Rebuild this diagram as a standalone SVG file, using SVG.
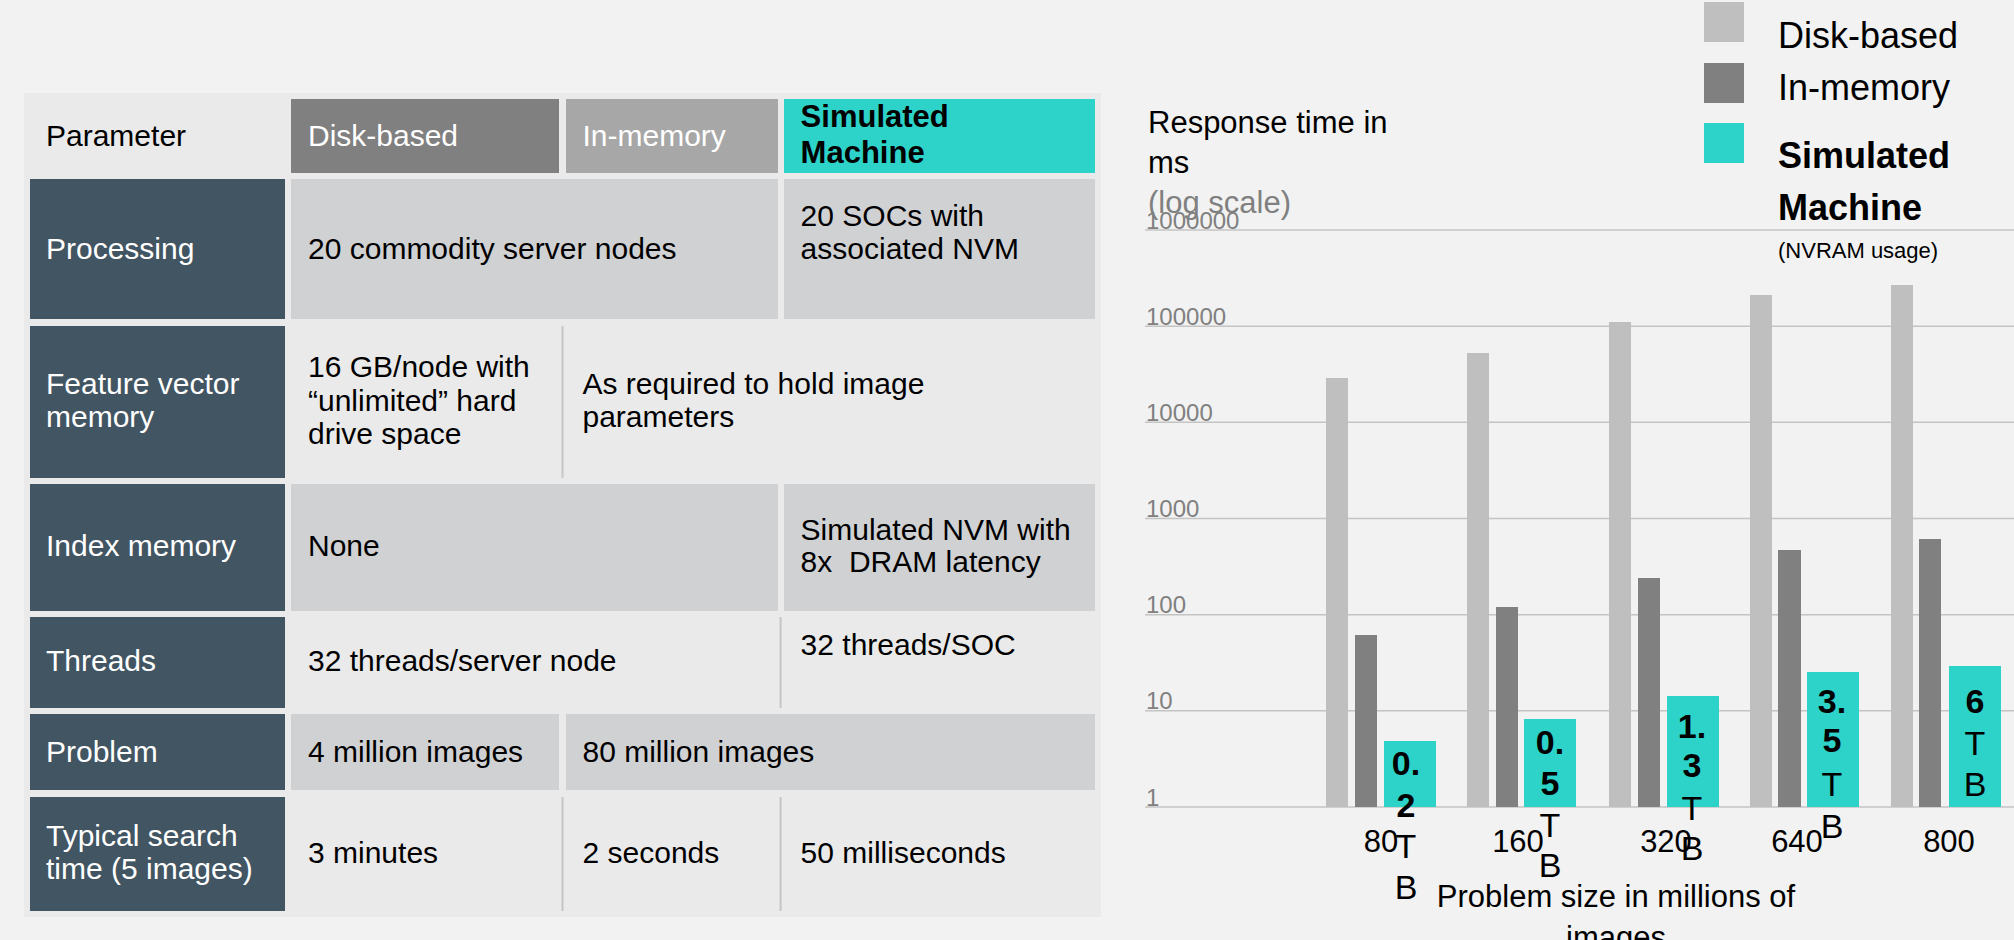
<svg xmlns="http://www.w3.org/2000/svg" width="2014" height="940" viewBox="0 0 2014 940">
<style>
text{font-family:"Liberation Sans",Arial,sans-serif;}
.t{font-size:30px;fill:#000;}
.w{font-size:30px;fill:#fff;}
.hb{font-size:31px;font-weight:bold;fill:#000;}
.pc{fill:#425563;}
.gc{fill:#d0d1d3;}
.sep{stroke:#c6c6c6;stroke-width:2;}
.grid{stroke:#c4c4c4;stroke-width:1.5;}
.yl{font-size:24px;fill:#808080;}
.disk{fill:#bfbfbf;}
.mem{fill:#808080;}
.sim{fill:#2dd2c9;}
.bl{font-size:34px;font-weight:bold;fill:#000;text-anchor:middle;}
.rl{font-size:34px;fill:#000;text-anchor:middle;}
.xl{font-size:31px;fill:#000;text-anchor:middle;}
.ct{font-size:31px;fill:#000;}
.lg{font-size:36px;fill:#000;}
</style>
<rect x="0" y="0" width="2014" height="940" fill="#f2f2f2"/>

<g id="table">
<rect x="24" y="93" width="1077" height="824" fill="#eaeaea"/>
<g id="hdr-param"><text class="t" x="46" y="146">Parameter</text></g>
<g id="hdr-disk"><rect x="291" y="99" width="268" height="74" fill="#808080"/><text class="w" x="308" y="146">Disk-based</text></g>
<g id="hdr-mem"><rect x="566" y="99" width="212" height="74" fill="#a7a7a7"/><text class="w" x="582.5" y="146">In-memory</text></g>
<g id="hdr-sim"><rect x="784" y="99" width="311" height="74" fill="#2dd2c9"/><text class="hb" x="800.6" y="127">Simulated</text><text class="hb" x="800.6" y="163">Machine</text></g>

<g id="row-processing">
<rect class="pc" x="30" y="179" width="255" height="140"/><text class="w" x="46" y="259">Processing</text>
<rect class="gc" x="291" y="179" width="487" height="140"/><text class="t" x="308" y="259">20 commodity server nodes</text>
<rect class="gc" x="784" y="179" width="311" height="140"/><text class="t" x="800.6" y="226">20 SOCs with</text><text class="t" x="800.6" y="259">associated NVM</text>
</g>

<g id="row-feature">
<rect class="pc" x="30" y="326" width="255" height="152"/><text class="w" x="46" y="394">Feature vector</text><text class="w" x="46" y="427">memory</text>
<line class="sep" x1="562.5" y1="326" x2="562.5" y2="478"/>
<text class="t" x="308" y="377">16 GB/node with</text><text class="t" x="308" y="411">“unlimited” hard</text><text class="t" x="308" y="444">drive space</text>
<text class="t" x="582.5" y="394">As required to hold image</text><text class="t" x="582.5" y="427">parameters</text>
</g>

<g id="row-index">
<rect class="pc" x="30" y="484" width="255" height="127"/><text class="w" x="46" y="556">Index memory</text>
<rect class="gc" x="291" y="484" width="487" height="127"/><text class="t" x="308" y="556">None</text>
<rect class="gc" x="784" y="484" width="311" height="127"/><text class="t" x="800.6" y="540">Simulated NVM with</text><text class="t" x="800.6" y="572" xml:space="preserve">8x  DRAM latency</text>
</g>

<g id="row-threads">
<rect class="pc" x="30" y="617" width="255" height="91"/><text class="w" x="46" y="671">Threads</text>
<line class="sep" x1="780.6" y1="617" x2="780.6" y2="708"/>
<text class="t" x="308" y="671">32 threads/server node</text>
<text class="t" x="800.6" y="655">32 threads/SOC</text>
</g>

<g id="row-problem">
<rect class="pc" x="30" y="714" width="255" height="76"/><text class="w" x="46" y="762">Problem</text>
<rect class="gc" x="291" y="714" width="268" height="76"/><text class="t" x="308" y="762">4 million images</text>
<rect class="gc" x="566" y="714" width="529" height="76"/><text class="t" x="582.5" y="762">80 million images</text>
</g>

<g id="row-search">
<rect class="pc" x="30" y="797" width="255" height="114"/><text class="w" x="46" y="846">Typical search</text><text class="w" x="46" y="879">time (5 images)</text>
<line class="sep" x1="562.5" y1="797" x2="562.5" y2="911"/>
<line class="sep" x1="780.6" y1="797" x2="780.6" y2="911"/>
<text class="t" x="308" y="863">3 minutes</text>
<text class="t" x="582.5" y="863">2 seconds</text>
<text class="t" x="800.6" y="863">50 milliseconds</text>
</g>
</g>

<g id="chart">
<g id="axis-title">
<text class="ct" x="1148" y="133">Response time in</text>
<text class="ct" x="1148" y="173">ms</text>
<text class="ct" x="1148" y="213" fill="#808080" style="fill:#808080">(log scale)</text>
</g>
<g id="gridlines">
<line class="grid" x1="1145" y1="230" x2="2014" y2="230"/>
<line class="grid" x1="1145" y1="326.2" x2="2014" y2="326.2"/>
<line class="grid" x1="1145" y1="422.3" x2="2014" y2="422.3"/>
<line class="grid" x1="1145" y1="518.5" x2="2014" y2="518.5"/>
<line class="grid" x1="1145" y1="614.7" x2="2014" y2="614.7"/>
<line class="grid" x1="1145" y1="710.8" x2="2014" y2="710.8"/>
<line class="grid" x1="1145" y1="807" x2="2014" y2="807"/>
</g>
<g id="y-labels">
<text class="yl" x="1146" y="229">1000000</text>
<text class="yl" x="1146" y="325">100000</text>
<text class="yl" x="1146" y="421">10000</text>
<text class="yl" x="1146" y="517">1000</text>
<text class="yl" x="1146" y="613">100</text>
<text class="yl" x="1146" y="709">10</text>
<text class="yl" x="1146" y="806">1</text>
</g>
<g id="bars">
<rect class="disk" x="1326" y="378" width="22" height="429"/>
<rect class="mem" x="1355" y="635" width="22" height="172"/>
<rect class="sim" x="1384" y="741" width="52" height="66"/>
<rect class="disk" x="1467" y="353" width="22" height="454"/>
<rect class="mem" x="1496" y="607" width="22" height="200"/>
<rect class="sim" x="1524" y="719" width="52" height="88"/>
<rect class="disk" x="1609" y="322" width="22" height="485"/>
<rect class="mem" x="1638" y="578" width="22" height="229"/>
<rect class="sim" x="1667" y="696" width="52" height="111"/>
<rect class="disk" x="1750" y="295" width="22" height="512"/>
<rect class="mem" x="1778" y="550" width="23" height="257"/>
<rect class="sim" x="1807" y="672" width="52" height="135"/>
<rect class="disk" x="1891" y="285" width="22" height="522"/>
<rect class="mem" x="1919" y="539" width="22" height="268"/>
<rect class="sim" x="1949" y="666" width="52" height="141"/>
</g>
<g id="x-labels">
<text class="xl" x="1381" y="852">80</text>
<text class="xl" x="1518" y="852">160</text>
<text class="xl" x="1666" y="852">320</text>
<text class="xl" x="1797" y="852">640</text>
<text class="xl" x="1949" y="852">800</text>
<text class="xl" x="1616" y="907">Problem size in millions of</text>
<text class="xl" x="1616" y="948">images</text>
</g>
<g id="bar-labels">
<text class="bl" x="1406" y="775">0.</text><text class="bl" x="1406" y="817">2</text><text class="rl" x="1406" y="858">T</text><text class="rl" x="1406" y="899">B</text>
<text class="bl" x="1550" y="754">0.</text><text class="bl" x="1550" y="795">5</text><text class="rl" x="1550" y="837">T</text><text class="rl" x="1550" y="877">B</text>
<text class="bl" x="1692" y="738">1.</text><text class="bl" x="1692" y="777">3</text><text class="rl" x="1692" y="820">T</text><text class="rl" x="1692" y="860">B</text>
<text class="bl" x="1832" y="713">3.</text><text class="bl" x="1832" y="752">5</text><text class="rl" x="1832" y="796">T</text><text class="rl" x="1832" y="838">B</text>
<text class="bl" x="1975" y="713">6</text><text class="rl" x="1975" y="755">T</text><text class="rl" x="1975" y="796">B</text>
</g>
<g id="legend">
<rect class="disk" x="1704" y="2" width="40" height="40"/>
<text class="lg" x="1778" y="48">Disk-based</text>
<rect class="mem" x="1704" y="63" width="40" height="40"/>
<text class="lg" x="1778" y="100">In-memory</text>
<rect class="sim" x="1704" y="123" width="40" height="40"/>
<text class="lg" x="1778" y="168" font-weight="bold">Simulated</text>
<text class="lg" x="1778" y="220" font-weight="bold">Machine</text>
<text x="1778" y="258" font-size="22">(NVRAM usage)</text>
</g>
</g>
</svg>
